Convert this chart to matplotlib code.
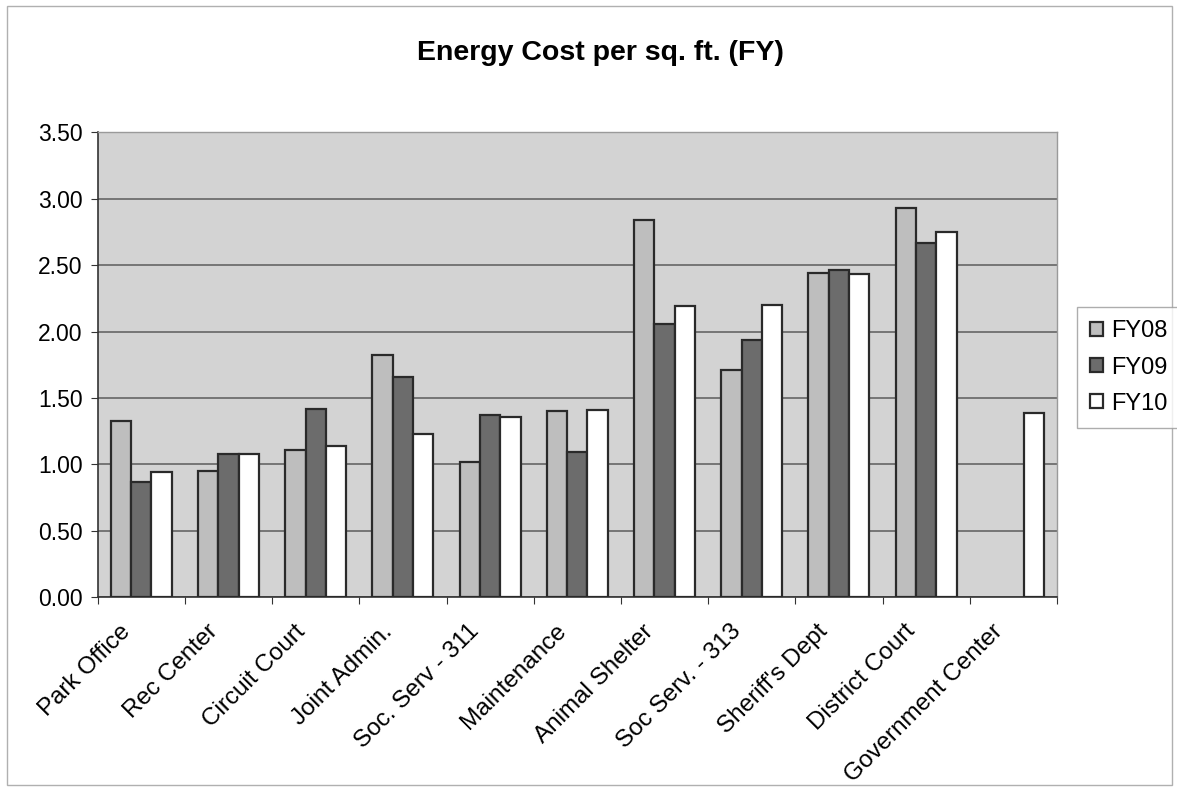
import matplotlib
matplotlib.use("Agg")
import matplotlib.pyplot as plt
import matplotlib.transforms as mtransforms
import numpy as np

plt.rcParams['font.family'] = ['Liberation Sans', 'DejaVu Sans']

categories = ["Park Office", "Rec Center", "Circuit Court", "Joint Admin.", "Soc. Serv - 311",
              "Maintenance", "Animal Shelter", "Soc Serv. - 313", "Sheriff's Dept",
              "District Court", "Government Center"]
fy08 = [1.33, 0.95, 1.11, 1.82, 1.02, 1.40, 2.84, 1.71, 2.44, 2.93, np.nan]
fy09 = [0.87, 1.08, 1.42, 1.66, 1.37, 1.09, 2.06, 1.94, 2.46, 2.67, np.nan]
fy10 = [0.94, 1.08, 1.14, 1.23, 1.36, 1.41, 2.19, 2.20, 2.43, 2.75, 1.39]
series_names = ["FY08", "FY09", "FY10"]
yticks = [0.0, 0.5, 1.0, 1.5, 2.0, 2.5, 3.0, 3.5]

fig = plt.figure(figsize=(11.77, 7.87), dpi=100)
ax = fig.add_axes([0.083, 0.241, 0.815, 0.591])
ax.set_facecolor('#d3d3d3')

x = np.arange(len(categories))
w = 0.233
colors = ['#bebebe', '#6c6c6c', '#ffffff']
for i, (vals, name, c) in enumerate(zip([fy08, fy09, fy10], series_names, colors)):
    ax.bar(x + (i - 1) * w, vals, width=w, color=c, edgecolor='#2a2a2a',
           linewidth=1.6, label=name, zorder=3)

ax.set_xlim(-0.5, len(categories) - 0.5)
ax.set_ylim(0, 3.5)
ax.set_yticks(yticks)
ax.set_yticklabels([f"{v:.2f}" for v in yticks], fontsize=16.5)
ax.yaxis.grid(True, color='#6e6e6e', linewidth=1.3, zorder=1)
ax.set_axisbelow(True)

ax.set_xticks(np.arange(len(categories) + 1) - 0.5)
ax.set_xticklabels([])
ax.tick_params(axis='x', which='major', length=5, direction='out', color='#333')
ax.tick_params(axis='y', length=5, direction='out', color='#333', pad=6)

# category labels (rotated, Excel-like placement)
base = mtransforms.blended_transform_factory(ax.transData, ax.transAxes)
offset = mtransforms.ScaledTranslation(-0.22, -0.23, fig.dpi_scale_trans)
for xi, name in zip(x, categories):
    ax.text(xi, 0, name, transform=base + offset, rotation=45, ha='right', va='top',
            rotation_mode='anchor', fontsize=17.5, clip_on=False)

for s in ['top', 'right']:
    ax.spines[s].set_color('#9a9a9a')
    ax.spines[s].set_linewidth(1.0)
for s in ['left', 'bottom']:
    ax.spines[s].set_color('#333333')
    ax.spines[s].set_linewidth(1.2)

fig.text(0.51, 1 - 60 / 787, "Energy Cost per sq. ft. (FY)", ha='center', va='baseline',
         fontsize=20.5, fontweight='bold')

leg = fig.legend(loc='center left', bbox_to_anchor=(0.915, 0.533), fontsize=17,
                 frameon=True, fancybox=False, edgecolor='#999999',
                 handlelength=0.55, handleheight=0.55, handletextpad=0.35,
                 labelspacing=0.6, borderpad=0.55, borderaxespad=0)

# outer chart border
fig.patches.append(plt.Rectangle((0.006, 0.003), 0.99, 0.99, transform=fig.transFigure,
                                 fill=False, edgecolor='#b0b0b0', linewidth=1.0))

fig.savefig("out.png", dpi=100, facecolor='white')
